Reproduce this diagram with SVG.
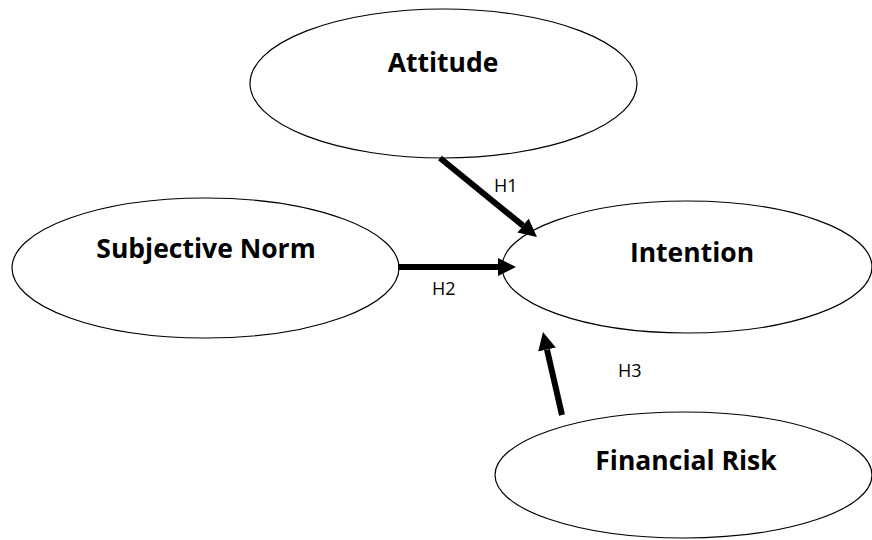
<svg xmlns="http://www.w3.org/2000/svg" width="872" height="540" viewBox="0 0 872 540">
  <style>
    .node ellipse { fill: #ffffff; stroke: #000000; stroke-width: 1.2; }
    .label { font-family: "Open Sans", "Liberation Sans", sans-serif; font-weight: bold; font-size: 26.5px; fill: #000000; text-anchor: middle; }
    .hyp { font-family: "Open Sans", "Liberation Sans", sans-serif; font-size: 18px; fill: #000000; }
    .conn { stroke: #000000; stroke-width: 6; fill: none; marker-end: url(#arrow); }
  </style>
  <defs>
    <marker id="arrow" viewBox="0 0 18 18" refX="0" refY="9" markerWidth="18" markerHeight="18" markerUnits="userSpaceOnUse" orient="auto">
      <path d="M0,0 L18,9 L0,18 z" fill="#000000"/>
    </marker>
  </defs>
  <rect width="872" height="540" fill="#ffffff"/>
  <g id="attitude" class="node">
    <ellipse cx="443.5" cy="83.5" rx="193.5" ry="74.5"/>
    <text class="label" x="443" y="72">Attitude</text>
  </g>
  <g id="subjective-norm" class="node">
    <ellipse cx="205.5" cy="268" rx="193.5" ry="70"/>
    <text class="label" x="206" y="258">Subjective Norm</text>
  </g>
  <g id="intention" class="node">
    <ellipse cx="687" cy="267" rx="185" ry="66"/>
    <text class="label" x="692" y="262">Intention</text>
  </g>
  <g id="financial-risk" class="node">
    <ellipse cx="683.5" cy="475" rx="188.5" ry="63"/>
    <text class="label" x="686" y="470">Financial Risk</text>
  </g>
  <g id="connectors">
    <line class="conn" x1="440" y1="158" x2="523" y2="225.6"/>
    <line class="conn" x1="398" y1="267" x2="498" y2="267"/>
    <line class="conn" x1="562" y1="415" x2="547" y2="349.6"/>
    <text class="hyp" x="494" y="192">H1</text>
    <text class="hyp" x="432" y="295">H2</text>
    <text class="hyp" x="618" y="377">H3</text>
  </g>
</svg>
